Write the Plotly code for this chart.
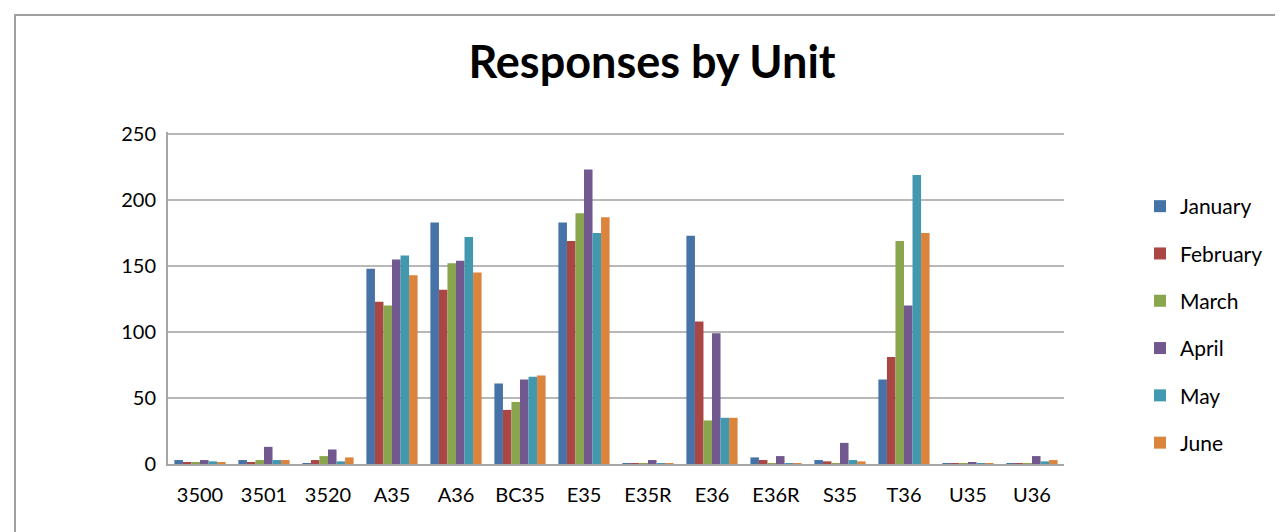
import plotly.graph_objects as go

units = ["3500", "3501", "3520", "A35", "A36", "BC35", "E35", "E35R", "E36", "E36R", "S35", "T36", "U35", "U36"]
months = ["January", "February", "March", "April", "May", "June"]

january  = [3, 3, 0.5, 148, 183, 61, 183, 0.5, 173, 5, 3, 64, 0.5, 0.5]
february = [1, 1, 3, 123, 132, 41, 169, 0.5, 108, 3, 2, 81, 0.5, 0.5]
march    = [1, 3, 6, 120, 152, 47, 190, 0.5, 33, 0.5, 0.5, 169, 0.5, 0.5]
april    = [3, 13, 11, 155, 154, 64, 223, 3, 99, 6, 16, 120, 1, 6]
may      = [2, 3, 2, 158, 172, 66, 175, 0.5, 35, 0.5, 3, 219, 0.5, 2]
june     = [1, 3, 5, 143, 145, 67, 187, 0.5, 35, 0.5, 2, 175, 0.5, 3]

series = [january, february, march, april, may, june]
colors = ["#4572A7", "#AA4643", "#89A54E", "#71588F", "#4198AF", "#DB843D"]

fig = go.Figure()
for name, vals, col in zip(months, series, colors):
    fig.add_trace(go.Bar(
        x=units, y=vals, name=name, legendgroup=name,
        marker=dict(color=col, line=dict(color=col, width=0)),
    ))

W, H = 1283, 532
fig.update_layout(
    width=W, height=H,
    margin=dict(l=160, r=227, t=124, b=76),
    paper_bgcolor="white", plot_bgcolor="white",
    barmode="group", bargap=0.2, bargroupgap=0,
    font=dict(family="Lato, 'Open Sans', sans-serif", color="#000000"),
    title=dict(text="<b>Responses by Unit</b>", x=644 / W, xanchor="center",
               y=1 - 54 / H, yanchor="middle", xref="container", yref="container",
               font=dict(size=45, family="Lato, sans-serif", color="#000000")),
    legend=dict(x=1132 / W, xref="container", xanchor="left",
                y=1 - 178 / H, yref="container", yanchor="top",
                font=dict(size=21), tracegroupgap=17, traceorder="grouped",
                maxheight=420, bgcolor="rgba(0,0,0,0)"),
    xaxis=dict(showgrid=False, showline=True, linecolor="#a6a6a6", linewidth=2,
               ticks="", tickfont=dict(size=20), ticklabelstandoff=12),
    yaxis=dict(range=[0, 251.5], tickvals=[0, 50, 100, 150, 200, 250], showgrid=True,
               gridcolor="#b8b8b8", gridwidth=2,
               showline=True, linecolor="#a6a6a6", linewidth=2, zeroline=False,
               ticks="", tickfont=dict(size=20), ticklabelstandoff=6),
    shapes=[dict(type="rect", xref="paper", yref="paper",
                 x0=(7 - 160) / (W - 160 - 227), x1=(1300 - 160) / (W - 160 - 227),
                 y0=(456 - 560) / (456 - 124), y1=(456 - 7) / (456 - 124),
                 line=dict(color="#a0a0a0", width=2), fillcolor="rgba(0,0,0,0)", layer="below")],
)

fig.write_html("out.html")
